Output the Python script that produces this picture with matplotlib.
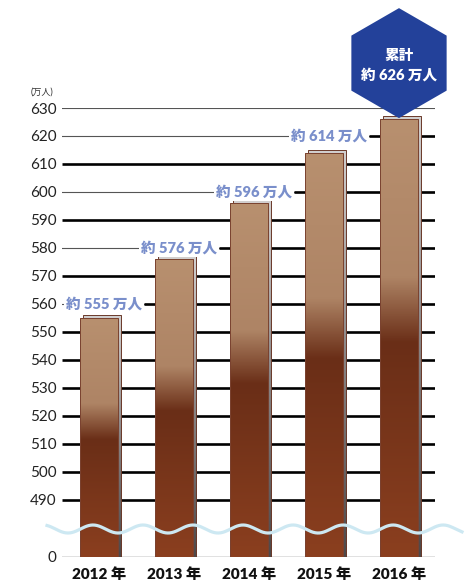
import numpy as np
import matplotlib.pyplot as plt
from matplotlib.patches import Rectangle, RegularPolygon
from matplotlib.colors import LinearSegmentedColormap

plt.rcParams['font.family'] = ['Lato', 'Noto Sans CJK JP', 'DejaVu Sans']

# --- data ---
years = ['2012 年', '2013 年', '2014 年', '2015 年', '2016 年']
visitors = [555, 576, 596, 614, 626]
value_labels = ['約 555 万人', '約 576 万人', '約 596 万人', '約 614 万人']
total_label = '累計\n約 626 万人'
grid_values = list(range(490, 631, 10))
tick_values = [0] + grid_values
unit_label = '(万人)'

# broken axis: 0..490 squeezed into a short band under the 490 line
BREAK = 490
LOW_SPAN = 20.4


def ty(v):
    v = float(v)
    if v >= BREAK:
        return v - BREAK
    return (v - BREAK) * LOW_SPAN / BREAK


fig = plt.figure(figsize=(4.67, 5.83), dpi=100)
ax = fig.add_axes([62 / 467, 26 / 583, 373 / 467, 449 / 583])
XMIN, XMAX = -0.493, 4.48
YMIN, YMAX = ty(0), ty(630)

w = 0.507
dx, dy = 0.045, 1.1
face_cmap = LinearSegmentedColormap.from_list(
    'face', [(0, '#b8906f'), (0.36, '#ae8465'), (0.51, '#6a2e17'), (1, '#8b3f1f')])
back_cmap = LinearSegmentedColormap.from_list(
    'back', [(0, '#d2d0d0'), (0.5, '#8a8585'), (1, '#4e4848')])
grad = np.linspace(0, 1, 256).reshape(-1, 1)

xs = np.arange(len(years))

# --- gridlines ---
label_levels = {int(np.ceil(v / 10) * 10): i for i, v in enumerate(visitors[:-1])}
for g in grid_values:
    y = ty(g)
    if g in label_levels:
        i = label_levels[g]
        next_left = xs[i + 1] - w / 2
        ax.plot([XMIN, XMAX], [y, y], color='#555555', lw=0.8, zorder=1)
        ax.plot([next_left - 0.14, XMAX], [y, y], color='black', lw=1.9, zorder=1,
                solid_capstyle='butt')
    elif g == 630:
        ax.plot([XMIN, XMAX], [y, y], color='#555555', lw=0.8, zorder=1)
    else:
        ax.plot([XMIN, XMAX], [y, y], color='black', lw=1.9, zorder=1,
                solid_capstyle='butt')
ax.plot([XMIN, XMAX], [ty(0), ty(0)], color='#666666', lw=1.0, zorder=1)

# --- bars ---
for x, v in zip(xs, visitors):
    b, t = ty(0), ty(v)
    back = Rectangle((x - w / 2 + dx, b), w, t - b + dy, fc='none',
                     ec='#6b3a2a', lw=0.7, zorder=3)
    ax.add_patch(back)
    im = ax.imshow(grad, cmap=back_cmap, aspect='auto', origin='upper',
                   extent=(x - w / 2 + dx, x + w / 2 + dx, b, t + dy), zorder=2.9)
    im.set_clip_path(back)
    front = Rectangle((x - w / 2, b), w, t - b, fc='none', ec='#7a4230', lw=0.7,
                      zorder=3.2)
    ax.add_patch(front)
    im = ax.imshow(grad, cmap=face_cmap, aspect='auto', origin='upper',
                   extent=(x - w / 2, x + w / 2, b, t), zorder=3.1)
    im.set_clip_path(front)

# --- value labels ---
for g, i in label_levels.items():
    next_left = xs[i + 1] - w / 2
    ax.text(next_left - 0.17, ty(g), value_labels[i], ha='right', va='center',
            color='#7a8fcb', fontsize=10.5, fontweight='heavy', zorder=4,
            bbox=dict(fc='white', ec='none', pad=1.5))

# --- wave marking the axis break ---
wx = np.linspace(-0.693, 4.84, 400)
wy = -10.4 + 1.43 * np.cos((wx + 0.080) * 2 * np.pi / 0.667)
ax.plot(wx, wy, color='#cde8f2', lw=2.3, zorder=5, clip_on=False)

ax.set_xlim(XMIN, XMAX)
ax.set_ylim(YMIN, YMAX)
ax.set_yticks([ty(v) for v in tick_values])
ax.set_yticklabels([str(v) for v in tick_values], fontsize=11, color='#222222')
ax.set_xticks(xs)
ax.set_xticklabels(years, fontsize=11, fontweight='heavy', color='#111111')
ax.tick_params(axis='y', length=0, pad=4)
ax.tick_params(axis='x', length=0, pad=7)
for s in ax.spines.values():
    s.set_visible(False)

fig.text(42 / 467, 1 - 92 / 583, unit_label, ha='center', va='center',
         fontsize=6.5, color='#333333')

# --- hexagon with the total ---
px, py = ax.transData.transform((xs[-1], ty(visitors[-1]) + dy))
R = 55
cx, cy = px / fig.dpi, (py + R - 2) / fig.dpi
hexagon = RegularPolygon((cx, cy), 6, radius=R / fig.dpi, orientation=0,
                         transform=fig.dpi_scale_trans, fc='#23419a', ec='none',
                         zorder=10)
fig.add_artist(hexagon)
fig.text(cx, cy - 2 / fig.dpi, total_label, transform=fig.dpi_scale_trans,
         ha='center', va='center', color='white', fontsize=10.5, fontweight='heavy',
         linespacing=1.45, zorder=11)

fig.savefig('out.png', dpi=100)
